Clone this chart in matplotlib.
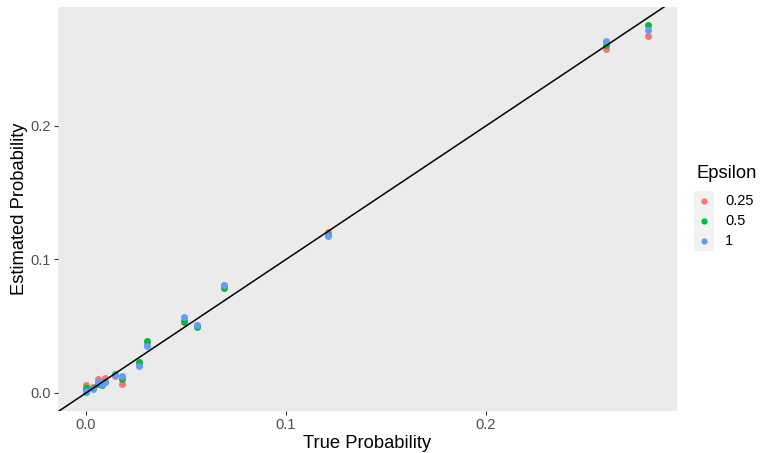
import numpy as np
import matplotlib
matplotlib.use("Agg")
import matplotlib.pyplot as plt
from matplotlib.lines import Line2D
from matplotlib.patches import Rectangle

plt.rcParams['font.family'] = ['Liberation Sans', 'DejaVu Sans']

# data
true_p = [0.0, 0.0, 0.0035, 0.006, 0.008, 0.0095, 0.0145, 0.018,
          0.0265, 0.0305, 0.049, 0.0555, 0.069, 0.121, 0.26, 0.281]
est_025 = [0.006, 0.002, 0.0045, 0.0105, 0.009, 0.011, 0.0127, 0.0067,
           0.0225, 0.037, 0.055, 0.051, 0.081, 0.1206, 0.2577, 0.2674]
est_05 = [0.0037, 0.001, 0.004, 0.007, 0.006, 0.008, 0.0142, 0.0105,
          0.0232, 0.039, 0.0532, 0.0494, 0.0787, 0.1184, 0.2607, 0.2757]
est_1 = [0.0007, 0.0015, 0.003, 0.0082, 0.0065, 0.008, 0.0135, 0.0127,
         0.0202, 0.0352, 0.0569, 0.0509, 0.0809, 0.1176, 0.2637, 0.2719]
eps_labels = ['0.25', '0.5', '1']
colors = ['#F8766D', '#00BA38', '#619CFF']

fig = plt.figure(figsize=(7.6, 4.53), dpi=100)
ax = fig.add_axes([58/760, 42/453, 619/760, 404/453])
ax.set_facecolor('#EBEBEB')
for s in ax.spines.values():
    s.set_visible(False)

for est, c in zip([est_025, est_05, est_1], colors):
    ax.scatter(true_p, est, s=25, color=c, linewidths=0, zorder=3)

ax.axline((0, 0), slope=1, color='black', lw=1.1, zorder=4)

ax.set_xlim(-0.014, 0.2955)
ax.set_ylim(-0.0135, 0.289)
ax.set_xticks([0.0, 0.1, 0.2])
ax.set_yticks([0.0, 0.1, 0.2])
ax.set_xticklabels(['0.0', '0.1', '0.2'])
ax.set_yticklabels(['0.0', '0.1', '0.2'])
ax.tick_params(colors='#333333', length=3, width=0.8, labelsize=10.5,
               labelcolor='#4D4D4D', pad=2)

ax.set_xlabel('True Probability', fontsize=13.2, labelpad=2)
ax.set_ylabel('Estimated Probability', fontsize=13.2, labelpad=2)

# legend drawn by hand, ggplot style
fig.text(697/760, 1 - 173/453, 'Epsilon', fontsize=13.2, va='center', ha='left')
fig.add_artist(Rectangle((694/760, 1 - 251/453), 20/760, 60/453,
                         transform=fig.transFigure, facecolor='#F2F2F2',
                         edgecolor='none'))
for i, (lab, c) in enumerate(zip(eps_labels, colors)):
    yy = 1 - (201 + 20*i)/453
    fig.add_artist(Line2D([704/760], [yy], marker='o', markersize=4.5,
                          color=c, markeredgewidth=0, linestyle='none',
                          transform=fig.transFigure))
    fig.text(725/760, yy, lab, fontsize=10.5, va='center', ha='left')

fig.savefig('out.png', dpi=100)
